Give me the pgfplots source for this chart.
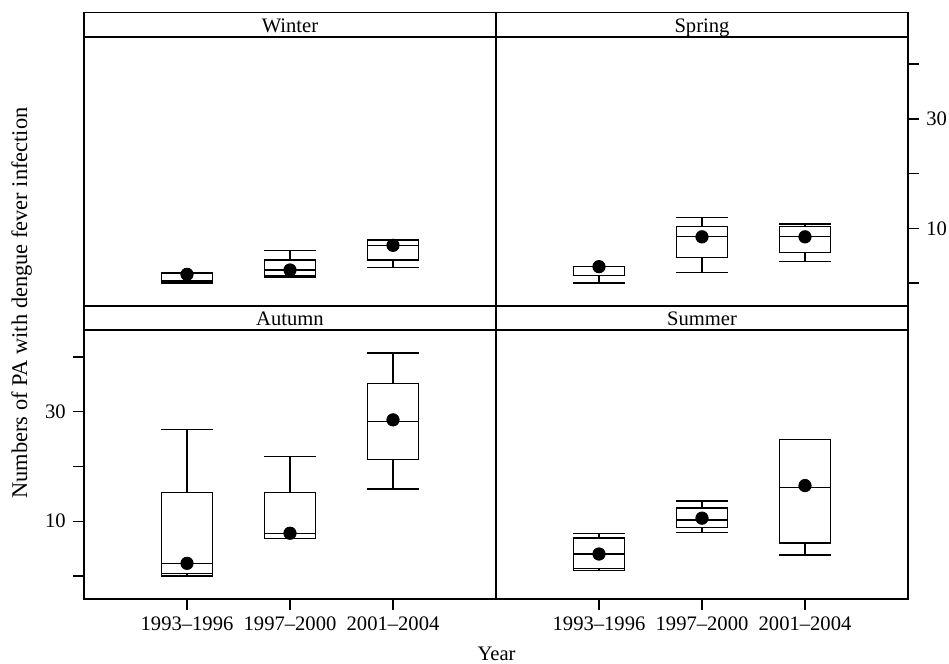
\documentclass[border=0pt]{standalone}
\usepackage{fontspec}
\setmainfont{Liberation Serif}
\usepackage{pgfplots}
\pgfplotsset{compat=1.18}
\usepgfplotslibrary{statistics}
\begin{document}
\fontsize{10.3bp}{12bp}\selectfont
\begin{tikzpicture}[font=\fontsize{10.3bp}{12bp}\selectfont]
\pgfplotsset{
  panel/.style={
    scale only axis, width=206bp, height=134.4bp,
    xmin=0, xmax=4, ymin=-4.2, ymax=44.9,
    axis line style={line width=0.65bp},
    every tick/.style={black, line width=0.65bp},
    major tick length=5.5bp, tick align=outside,
    xtick=\empty, ytick=\empty,
    every axis title/.style={at={(0.5,1)}, anchor=south, draw=black, line width=0.65bp,
      minimum width=206bp, inner sep=0pt, text height=9.8bp, text depth=2.2bp},
    anchor=north west,
  },
  bx/.style={draw=black, line width=0.65bp, solid},
  mn/.style={only marks, mark=*, mark size=3.1bp, black},
}
% Winter
\begin{axis}[panel, at={(42bp,-18.65bp)}, title={Winter}]
\addplot[bx, boxplot prepared={draw direction=y, draw position=1, box extend=0.5, whisker extend=0.5,
  lower whisker=0, lower quartile=0.4, median=1.7, upper quartile=2.0, upper whisker=2.0}] coordinates {};
\addplot[bx, boxplot prepared={draw direction=y, draw position=2, box extend=0.5, whisker extend=0.5,
  lower whisker=1.0, lower quartile=1.3, median=2.4, upper quartile=4.2, upper whisker=6.0}] coordinates {};
\addplot[bx, boxplot prepared={draw direction=y, draw position=3, box extend=0.5, whisker extend=0.5,
  lower whisker=2.9, lower quartile=4.2, median=6.9, upper quartile=7.85, upper whisker=7.85}] coordinates {};
\addplot[mn] coordinates {(1,1.6) (2,2.4) (3,6.9)};
\end{axis}
% Spring
\begin{axis}[panel, at={(248bp,-18.65bp)}, title={Spring},
  ytick={0,10,20,30,40}, yticklabels={,10,,30,}, ytick pos=right, yticklabel pos=right]
\addplot[bx, boxplot prepared={draw direction=y, draw position=1, box extend=0.5, whisker extend=0.5,
  lower whisker=0, lower quartile=1.45, median=3.0, upper quartile=3.0, upper whisker=3.0}] coordinates {};
\addplot[bx, boxplot prepared={draw direction=y, draw position=2, box extend=0.5, whisker extend=0.5,
  lower whisker=1.9, lower quartile=4.7, median=8.45, upper quartile=10.3, upper whisker=12.0}] coordinates {};
\addplot[bx, boxplot prepared={draw direction=y, draw position=3, box extend=0.5, whisker extend=0.5,
  lower whisker=3.9, lower quartile=5.6, median=8.45, upper quartile=10.3, upper whisker=10.8}] coordinates {};
\addplot[mn] coordinates {(1,3.0) (2,8.45) (3,8.45)};
\end{axis}
% Autumn
\begin{axis}[panel, at={(42bp,-165.05bp)}, title={Autumn},
  ytick={0,10,20,30,40}, yticklabels={,10,,30,}, ytick pos=left,
  xtick={1,2,3}, xticklabels={1993--1996,1997--2000,2001--2004}, xtick pos=bottom]
\addplot[bx, boxplot prepared={draw direction=y, draw position=1, box extend=0.5, whisker extend=0.5,
  lower whisker=0.5, lower quartile=0.0, median=2.3, upper quartile=15.3, upper whisker=26.8}] coordinates {};
\addplot[bx, boxplot prepared={draw direction=y, draw position=2, box extend=0.5, whisker extend=0.5,
  lower whisker=6.8, lower quartile=6.8, median=7.8, upper quartile=15.3, upper whisker=21.8}] coordinates {};
\addplot[bx, boxplot prepared={draw direction=y, draw position=3, box extend=0.5, whisker extend=0.5,
  lower whisker=15.85, lower quartile=21.3, median=28.2, upper quartile=35.2, upper whisker=40.7}] coordinates {};
\addplot[mn] coordinates {(1,2.3) (2,7.8) (3,28.5)};
\end{axis}
% Summer
\begin{axis}[panel, at={(248bp,-165.05bp)}, title={Summer},
  xtick={1,2,3}, xticklabels={1993--1996,1997--2000,2001--2004}, xtick pos=bottom]
\addplot[bx, boxplot prepared={draw direction=y, draw position=1, box extend=0.5, whisker extend=0.5,
  lower whisker=1.3, lower quartile=1.0, median=4.0, upper quartile=6.9, upper whisker=7.8}] coordinates {};
\addplot[bx, boxplot prepared={draw direction=y, draw position=2, box extend=0.5, whisker extend=0.5,
  lower whisker=7.9, lower quartile=8.8, median=10.2, upper quartile=12.4, upper whisker=13.7}] coordinates {};
\addplot[bx, boxplot prepared={draw direction=y, draw position=3, box extend=0.5, whisker extend=0.5,
  lower whisker=3.8, lower quartile=6.0, median=16.2, upper quartile=24.9, upper whisker=24.9}] coordinates {};
\addplot[mn] coordinates {(1,4.0) (2,10.55) (3,16.5)};
\end{axis}
\node[rotate=90, anchor=base, inner sep=0pt, font=\fontsize{11.2bp}{13bp}\selectfont] at (13.5bp,-151.5bp) {Numbers of PA with dengue fever infection};
\node[anchor=base, inner sep=0pt] at (248.3bp,-330bp) {Year};
\pgfresetboundingbox
\path (0,0) rectangle (474.5bp,-332bp);
\end{tikzpicture}
\end{document}
